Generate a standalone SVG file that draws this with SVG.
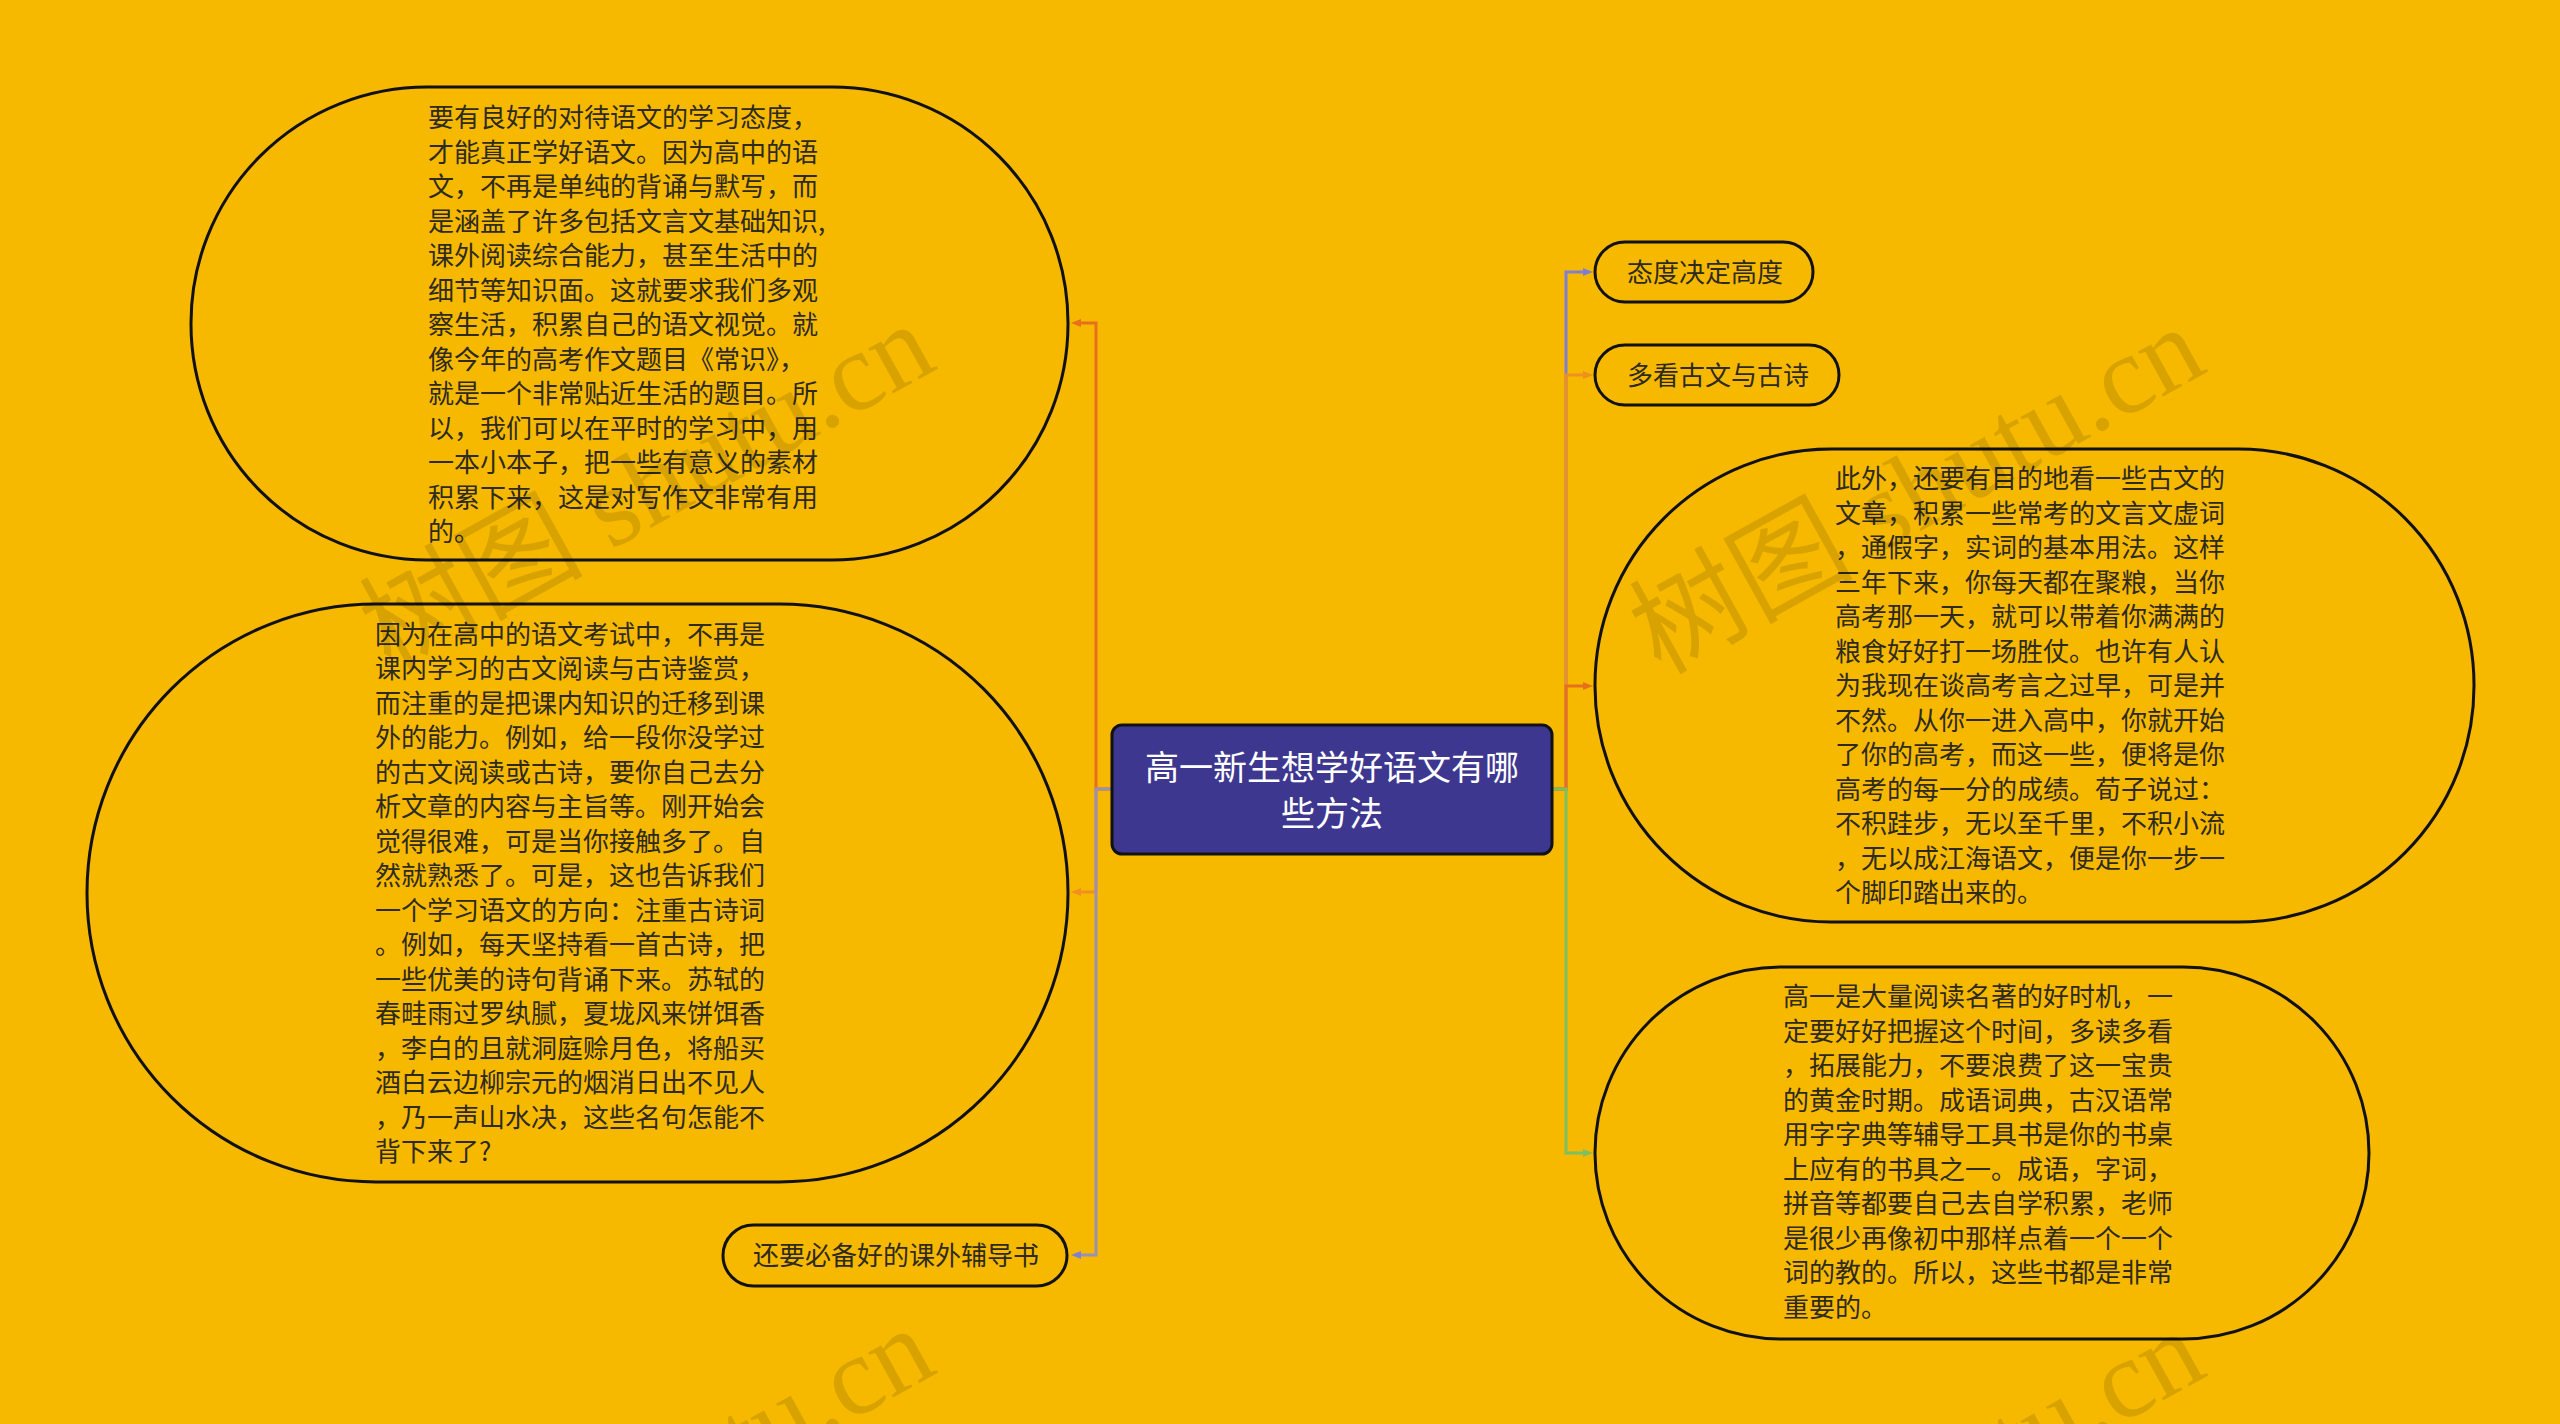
<svg xmlns="http://www.w3.org/2000/svg" width="2560" height="1424" viewBox="0 0 2560 1424">
<defs>
<style>
.node{fill:#f6b900;stroke:#111;stroke-width:3}
.t{font-family:"Noto Sans CJK SC","Noto Sans",sans-serif;font-size:26px;fill:#2e2a1e}
.ct{font-family:"Noto Sans CJK SC","Noto Sans",sans-serif;font-size:34px;fill:#ffffff;text-anchor:middle}
.c{fill:none;stroke-width:3}
.wm{font-family:"Liberation Serif","Noto Sans CJK SC",serif;font-size:112px;fill:#000;fill-opacity:0.12;text-anchor:middle}
</style>
<marker id="aDO" viewBox="0 0 10 10" refX="4" refY="5" markerWidth="10" markerHeight="10" markerUnits="userSpaceOnUse" orient="auto"><path d="M0,1 L10,5 L0,9 z" fill="#e8701a"/></marker>
<marker id="aLO" viewBox="0 0 10 10" refX="4" refY="5" markerWidth="10" markerHeight="10" markerUnits="userSpaceOnUse" orient="auto"><path d="M0,1 L10,5 L0,9 z" fill="#f0901e"/></marker>
<marker id="aPU" viewBox="0 0 10 10" refX="4" refY="5" markerWidth="10" markerHeight="10" markerUnits="userSpaceOnUse" orient="auto"><path d="M0,1 L10,5 L0,9 z" fill="#8080d0"/></marker>
<marker id="aGR" viewBox="0 0 10 10" refX="4" refY="5" markerWidth="10" markerHeight="10" markerUnits="userSpaceOnUse" orient="auto"><path d="M0,1 L10,5 L0,9 z" fill="#7cc060"/></marker>
</defs>
<rect x="0" y="0" width="2560" height="1424" fill="#f6b900"/>

<g id="connectors">
<path class="c" d="M1112,789 H1096 V892 H1077" stroke="#f0901e" marker-end="url(#aLO)"/>
<path class="c" d="M1112,789 H1096 V323 H1077" stroke="#e8701a" marker-end="url(#aDO)"/>
<path class="c" d="M1112,789 H1096 V1255 H1077" stroke="#9a92b4" marker-end="url(#aPU)"/>
<path class="c" d="M1552,789 H1566 V272 H1587" stroke="#8080d0" marker-end="url(#aPU)"/>
<path class="c" d="M1552,789 H1566 V375 H1587" stroke="#f0901e" marker-end="url(#aLO)"/>
<path class="c" d="M1552,789 H1566 V686 H1587" stroke="#e8701a" marker-end="url(#aDO)"/>
<path class="c" d="M1552,789 H1566 V1153 H1587" stroke="#7cc060" marker-end="url(#aGR)"/>
</g>

<g id="center">
<rect x="1112" y="725" width="440" height="129" rx="10" fill="#3e3790" stroke="#111" stroke-width="3"/>
<text class="ct"><tspan x="1332" y="780">高一新生想学好语文有哪</tspan><tspan x="1332" y="826">些方法</tspan></text>
</g>

<g id="node-top-left">
<rect class="node" x="191" y="87" width="877" height="473" rx="236"/>
<text class="t"><tspan x="428" y="127">要有良好的对待语文的学习态度，</tspan><tspan x="428" dy="34.5">才能真正学好语文。因为高中的语</tspan><tspan x="428" dy="34.5">文，不再是单纯的背诵与默写，而</tspan><tspan x="428" dy="34.5">是涵盖了许多包括文言文基础知识,</tspan><tspan x="428" dy="34.5">课外阅读综合能力，甚至生活中的</tspan><tspan x="428" dy="34.5">细节等知识面。这就要求我们多观</tspan><tspan x="428" dy="34.5">察生活，积累自己的语文视觉。就</tspan><tspan x="428" dy="34.5">像今年的高考作文题目《常识》，</tspan><tspan x="428" dy="34.5">就是一个非常贴近生活的题目。所</tspan><tspan x="428" dy="34.5">以，我们可以在平时的学习中，用</tspan><tspan x="428" dy="34.5">一本小本子，把一些有意义的素材</tspan><tspan x="428" dy="34.5">积累下来，这是对写作文非常有用</tspan><tspan x="428" dy="34.5">的。</tspan></text>
</g>

<g id="node-left-middle">
<rect class="node" x="87" y="604" width="981" height="578" rx="289"/>
<text class="t"><tspan x="375" y="643.5">因为在高中的语文考试中，不再是</tspan><tspan x="375" dy="34.5">课内学习的古文阅读与古诗鉴赏，</tspan><tspan x="375" dy="34.5">而注重的是把课内知识的迁移到课</tspan><tspan x="375" dy="34.5">外的能力。例如，给一段你没学过</tspan><tspan x="375" dy="34.5">的古文阅读或古诗，要你自己去分</tspan><tspan x="375" dy="34.5">析文章的内容与主旨等。刚开始会</tspan><tspan x="375" dy="34.5">觉得很难，可是当你接触多了。自</tspan><tspan x="375" dy="34.5">然就熟悉了。可是，这也告诉我们</tspan><tspan x="375" dy="34.5">一个学习语文的方向：注重古诗词</tspan><tspan x="375" dy="34.5">。例如，每天坚持看一首古诗，把</tspan><tspan x="375" dy="34.5">一些优美的诗句背诵下来。苏轼的</tspan><tspan x="375" dy="34.5">春畦雨过罗纨腻，夏垅风来饼饵香</tspan><tspan x="375" dy="34.5">，李白的且就洞庭赊月色，将船买</tspan><tspan x="375" dy="34.5">酒白云边柳宗元的烟消日出不见人</tspan><tspan x="375" dy="34.5">，乃一声山水决，这些名句怎能不</tspan><tspan x="375" dy="34.5">背下来了?</tspan></text>
</g>

<g id="node-left-bottom">
<rect class="node" x="723" y="1225" width="344" height="61" rx="30.5"/>
<text class="t" x="753" y="1265">还要必备好的课外辅导书</text>
</g>

<g id="node-right-1">
<rect class="node" x="1595" y="242" width="218" height="60" rx="30"/>
<text class="t" x="1627" y="282">态度决定高度</text>
</g>

<g id="node-right-2">
<rect class="node" x="1595" y="345" width="244" height="60" rx="30"/>
<text class="t" x="1627" y="385">多看古文与古诗</text>
</g>

<g id="node-right-3">
<rect class="node" x="1595" y="449" width="879" height="473" rx="236"/>
<text class="t"><tspan x="1835" y="488">此外，还要有目的地看一些古文的</tspan><tspan x="1835" dy="34.5">文章，积累一些常考的文言文虚词</tspan><tspan x="1835" dy="34.5">，通假字，实词的基本用法。这样</tspan><tspan x="1835" dy="34.5">三年下来，你每天都在聚粮，当你</tspan><tspan x="1835" dy="34.5">高考那一天，就可以带着你满满的</tspan><tspan x="1835" dy="34.5">粮食好好打一场胜仗。也许有人认</tspan><tspan x="1835" dy="34.5">为我现在谈高考言之过早，可是并</tspan><tspan x="1835" dy="34.5">不然。从你一进入高中，你就开始</tspan><tspan x="1835" dy="34.5">了你的高考，而这一些，便将是你</tspan><tspan x="1835" dy="34.5">高考的每一分的成绩。荀子说过：</tspan><tspan x="1835" dy="34.5">不积跬步，无以至千里，不积小流</tspan><tspan x="1835" dy="34.5">，无以成江海语文，便是你一步一</tspan><tspan x="1835" dy="34.5">个脚印踏出来的。</tspan></text>
</g>

<g id="node-right-4">
<rect class="node" x="1595" y="967" width="774" height="372" rx="186"/>
<text class="t"><tspan x="1783" y="1006">高一是大量阅读名著的好时机，一</tspan><tspan x="1783" dy="34.5">定要好好把握这个时间，多读多看</tspan><tspan x="1783" dy="34.5">，拓展能力，不要浪费了这一宝贵</tspan><tspan x="1783" dy="34.5">的黄金时期。成语词典，古汉语常</tspan><tspan x="1783" dy="34.5">用字字典等辅导工具书是你的书桌</tspan><tspan x="1783" dy="34.5">上应有的书具之一。成语，字词，</tspan><tspan x="1783" dy="34.5">拼音等都要自己去自学积累，老师</tspan><tspan x="1783" dy="34.5">是很少再像初中那样点着一个一个</tspan><tspan x="1783" dy="34.5">词的教的。所以，这些书都是非常</tspan><tspan x="1783" dy="34.5">重要的。</tspan></text>
</g>

<g id="watermarks">
<text class="wm" transform="translate(665,520) rotate(-29)">树图 shutu.cn</text>
<text class="wm" transform="translate(1935,523) rotate(-29)">树图 shutu.cn</text>
<text class="wm" transform="translate(665,1524) rotate(-29)">树图 shutu.cn</text>
<text class="wm" transform="translate(1935,1527) rotate(-29)">树图 shutu.cn</text>
</g>
</svg>
